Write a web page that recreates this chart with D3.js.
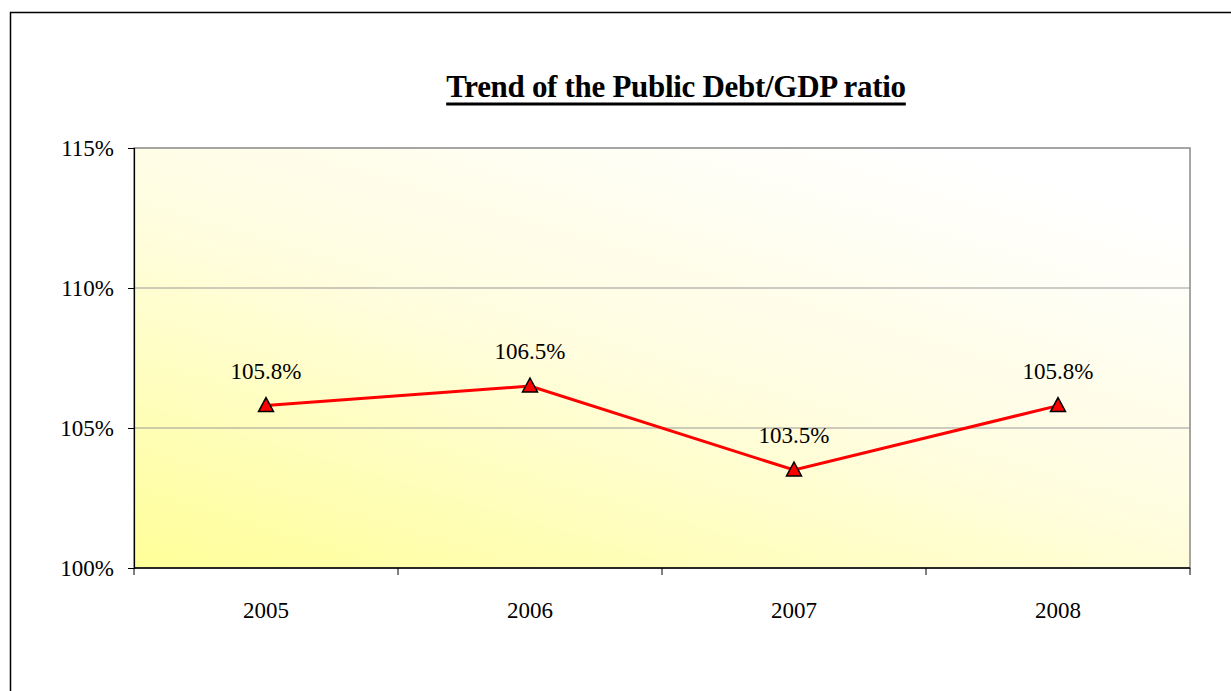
<!DOCTYPE html>
<html>
<head>
<meta charset="utf-8">
<script src="https://cdn.jsdelivr.net/npm/d3@7"></script>
<style>
  body { margin: 0; background: #fff; }
  svg { display: block; font-family: 'Liberation Serif', 'Times New Roman', serif; }
</style>
</head>
<body>
<svg id="chart"></svg>
<script>
const years = ['2005', '2006', '2007', '2008'];
const ratios = [105.8, 106.5, 103.5, 105.8];
const yTicks = [100, 105, 110, 115];

const width = 1231, height = 691;
const margin = { top: 148, right: 41, bottom: 123, left: 134 };

const svg = d3.select('#chart').attr('width', width).attr('height', height);

// outer chart frame
svg.append('rect')
    .attr('x', 10.5).attr('y', 12.5)
    .attr('width', 1240).attr('height', 700)
    .attr('fill', '#fff').attr('stroke', '#000').attr('stroke-width', 1.5);

const defs = svg.append('defs');
const grad = defs.append('linearGradient')
    .attr('id', 'bg').attr('x1', '0%').attr('y1', '100%').attr('x2', '75%').attr('y2', '0%');
grad.append('stop').attr('offset', '0%').attr('stop-color', '#ffff99');
grad.append('stop').attr('offset', '55%').attr('stop-color', '#fffde0');
grad.append('stop').attr('offset', '100%').attr('stop-color', '#ffffff');

const x = d3.scaleBand().domain(years).range([margin.left, width - margin.right]);
const y = d3.scaleLinear().domain([100, 115]).range([height - margin.bottom, margin.top]);

// plot area
svg.append('rect')
    .attr('x', margin.left).attr('y', margin.top)
    .attr('width', x.range()[1] - margin.left).attr('height', y(100) - margin.top)
    .attr('fill', 'url(#bg)').attr('stroke', '#888').attr('stroke-width', 1.5);

// gridlines
svg.append('g')
    .selectAll('line')
    .data(yTicks.slice(1, -1))
    .join('line')
    .attr('x1', margin.left).attr('x2', x.range()[1])
    .attr('y1', (d) => y(d)).attr('y2', (d) => y(d))
    .attr('stroke', '#999').attr('stroke-width', 1);

// y axis
const yAxis = svg.append('g')
    .attr('transform', `translate(${margin.left},0)`)
    .call(d3.axisLeft(y).tickValues(yTicks).tickFormat((d) => d + '%').tickSize(6).tickPadding(14));
yAxis.select('.domain').attr('stroke', '#000').attr('stroke-width', 1.2);
yAxis.selectAll('.tick line').attr('stroke', '#000');
yAxis.selectAll('text').attr('font-size', 23).attr('fill', '#000')
    .attr('font-family', "'Liberation Serif', serif");

// x axis (ticks at band edges)
const xAxis = svg.append('g').attr('transform', `translate(0,${y(100)})`);
xAxis.append('line')
    .attr('x1', margin.left).attr('x2', x.range()[1])
    .attr('stroke', '#000').attr('stroke-width', 1.5);
xAxis.selectAll('.edge')
    .data(years.map((d) => x(d)).concat([x.range()[1]]))
    .join('line')
    .attr('class', 'edge')
    .attr('x1', (d) => d).attr('x2', (d) => d)
    .attr('y1', 0).attr('y2', 7)
    .attr('stroke', '#000');
xAxis.selectAll('text')
    .data(years)
    .join('text')
    .attr('x', (d) => x(d) + x.bandwidth() / 2)
    .attr('y', 50)
    .attr('text-anchor', 'middle')
    .attr('font-size', 23)
    .text((d) => d);

const pts = years.map((d, i) => [x(d) + x.bandwidth() / 2, y(ratios[i])]);

svg.append('path')
    .datum(pts)
    .attr('d', d3.line())
    .attr('fill', 'none')
    .attr('stroke', '#ff0000')
    .attr('stroke-width', 3);

svg.append('g')
    .selectAll('path')
    .data(pts)
    .join('path')
    .attr('transform', (d) => `translate(${d[0]},${d[1]})`)
    .attr('d', 'M0,-8 L7.5,6 L-7.5,6 Z')
    .attr('fill', '#ff0000')
    .attr('stroke', '#000')
    .attr('stroke-width', 1.5);

svg.append('g')
    .selectAll('text')
    .data(pts)
    .join('text')
    .attr('x', (d) => d[0])
    .attr('y', (d) => d[1] - 27)
    .attr('text-anchor', 'middle')
    .attr('font-size', 23)
    .text((d, i) => ratios[i].toFixed(1) + '%');

// title
const title = svg.append('text')
    .attr('x', 676).attr('y', 97)
    .attr('text-anchor', 'middle')
    .attr('font-size', 31)
    .attr('font-weight', 'bold')
    .attr('letter-spacing', -0.3)
    .text('Trend of the Public Debt/GDP ratio');
const bb = title.node().getBBox();
svg.append('line')
    .attr('x1', bb.x).attr('x2', bb.x + bb.width)
    .attr('y1', 104).attr('y2', 104)
    .attr('stroke', '#000').attr('stroke-width', 3);
</script>
</body>
</html>
